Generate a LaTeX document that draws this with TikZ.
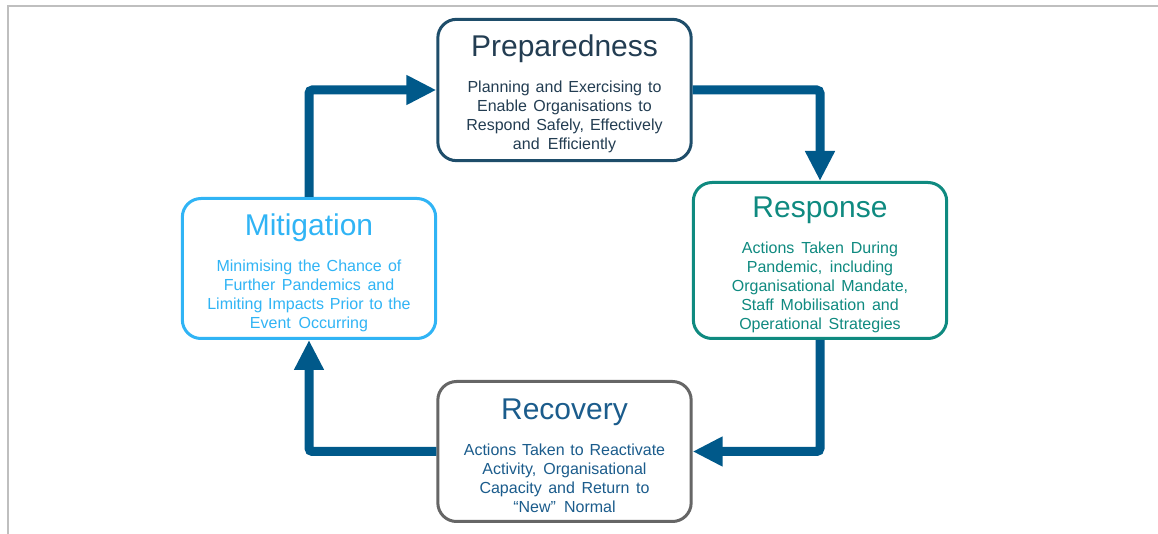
\documentclass[tikz,border=0pt]{standalone}
\usepackage{fontspec}
\setmainfont{Liberation Sans}
\usepackage{tikz}
\usetikzlibrary{%
  arrows.meta%
}
\definecolor{flowblue}{HTML}{00598A}
\definecolor{prepcol}{HTML}{1E4D6A}
\definecolor{preptext}{HTML}{233D52}
\definecolor{respcol}{HTML}{0F8A80}
\definecolor{mitcol}{HTML}{30B4F5}
\definecolor{reccol}{HTML}{666666}
\definecolor{rectext}{HTML}{1B5C8C}
\definecolor{framegray}{HTML}{BFBFBF}
\newcommand{\stagetext}[2]{\spaceskip=0.33em plus 0.1em\relax
  \rule{0pt}{22pt}{\fontsize{22.5}{27}\selectfont #1}\\[12.75pt]#2}

\begin{document}
\begin{tikzpicture}[x=0.75pt, y=-0.75pt,
  stage/.style={draw, line width=2.25pt, rounded corners=14pt, fill=white,
    minimum width=190pt, minimum height=105pt, text width=165pt, align=center,
    font=\fontsize{12}{14.25}\selectfont},
  flow/.style={draw=flowblue, line width=6.75pt, rounded corners=2.5pt,
    -{Triangle[length=22.5pt, width=21pt]}}]
\useasboundingbox (0,0) rectangle (1158,534);
\draw[framegray, line width=1.5pt] (7.5,534) -- (7.5,6.5) -- (1158,6.5);

\node[stage, draw=prepcol, text=preptext, minimum height=106pt] (prep) at (564.5,90)
  {\stagetext{Preparedness}{Planning and Exercising to\\Enable Organisations to\\Respond Safely, Effectively\\and Efficiently}};
\node[stage, draw=respcol, text=respcol, minimum height=117pt] (resp) at (820,260.5)
  {\stagetext{Response}{Actions Taken During\\Pandemic, including\\Organisational Mandate,\\Staff Mobilisation and\\Operational Strategies}};
\node[stage, draw=reccol, text=rectext] (rec) at (564.5,451.5)
  {\stagetext{Recovery}{Actions Taken to Reactivate\\Activity, Organisational\\Capacity and Return to\\``New'' Normal}};
\node[stage, draw=mitcol, text=mitcol] (mit) at (309,268.5)
  {\stagetext{Mitigation}{Minimising the Chance of\\Further Pandemics and\\Limiting Impacts Prior to the\\Event Occurring}};

\draw[flow] (mit.north) |- (prep.west);
\draw[flow] (prep.east) -| (resp.north);
\draw[flow] (resp.south) |- (rec.east);
\draw[flow] (rec.west) -| (mit.south);
\end{tikzpicture}
\end{document}
